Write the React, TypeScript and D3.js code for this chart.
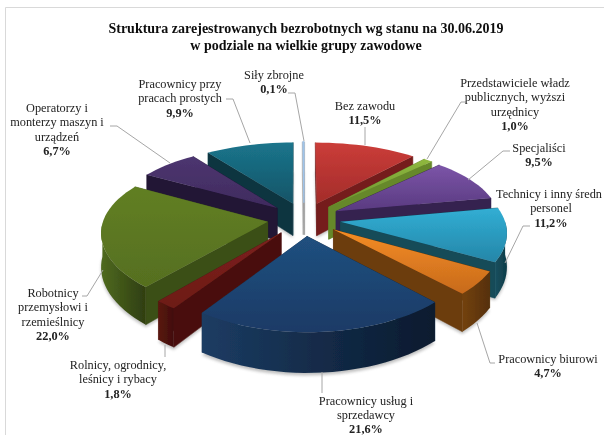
import React from "react";
import * as d3 from "d3";

const W = 604, H = 435;
const values = [11.5,1.0,9.5,11.2,4.7,21.6,1.8,22.0,6.7,9.9,0.1];
const topLight = ["#cb3d39","#8fb83f","#7c55a8","#31aed4","#f58d25","#20507f","#7c211c","#617f24","#4d3570","#1b758c","#9fc4ea"];
const topDark = ["#a32c2a","#6c9430","#593a80","#2586a8","#c76a1c","#1a3a66","#6d1b17","#566f1f","#3f2b5e","#135467","#9fc4ea"];
const wallLight = ["#7c211f","#6b8f2d","#3a2456","#17505f","#73420f","#1c3c63","#5a1612","#4f6a20","#2a1c40","#0f4252","#a0a0a0"];
const wallDark = ["#5c1614","#557323","#27183c","#0e3a46","#552f0a","#0a1a2e","#3f0e0b","#2e3d10","#1b112c","#082a34","#909090"];
const titleLines = ["Struktura zarejestrowanych bezrobotnych wg stanu na 30.06.2019","w podziale na wielkie grupy zawodowe"];
const labelTexts = [
  ["Bez zawodu"],["Przedstawiciele władz","publicznych, wyższi","urzędnicy"],["Specjaliści"],["Technicy i inny średn","personel"],["Pracownicy biurowi"],["Pracownicy usług i","sprzedawcy"],["Rolnicy, ogrodnicy,","leśnicy i rybacy"],["Robotnicy","przemysłowi i","rzemieślnicy"],["Operatorzy i","monterzy maszyn i","urządzeń"],["Pracownicy przy","pracach prostych"],["Siły zbrojne"],
];
const labelPos: [number, number][] = [[365,110],[515,87],[539,152],[551,198],[548,363],[366,404.5],[118,369],[53,297],[57,112],[180,88],[274,79]];
const firstLineShift = [0,0,0,-2,0,0,0,0,0,0,0];
const leaders: [number, number][][] = [
  [[365,127],[365,145]],
  [[467,102],[461,102],[427,159]],
  [[510,151],[503,151],[468,180]],
  [[530,226],[523,226],[505,263]],
  [[495,363],[490,363],[477,323]],
  [[322,372],[322,393]],
  [[165,345],[165,357]],
  [[82,296],[87,296],[103,270]],
  [[110,126],[117,126],[170,163]],
  [[226,99],[233,99],[250,143]],
  [[288,93],[295,93],[304,141]],
];
const valueSuffix = (v: number) => v.toFixed(1).replace(".", ",") + "%";

const CX = 304, CY = 219, R = 164, TILT = 75, KY = 0.155, KX = 0.12, EXPLODE = 0.224, DEPTH = 33;
const project = (X: number, Y: number, z = 0): [number, number] => {
  const sy = 1 / (1 - KY * Y), sx = 1 / (1 - KX * Y);
  return [CX + X * R * sx, CY + Y * TILT * sy + z * sy];
};
const pieGen = d3.pie<number>().sort(null).value(d => d);
const arcs = pieGen(values);

type Face = { d: string; fill: string; y: number };
const line = d3.line<[number, number]>();
type P = [number, number];
const prism = (pts: P[]) => {
  const up = pts.map(p => project(p[0], p[1]));
  const down = pts.map(p => project(p[0], p[1], DEPTH)).reverse();
  return line([...up, ...down]) + "Z";
};

function buildSlice(i: number) {
  const a = arcs[i];
  const mid = (a.startAngle + a.endAngle) / 2;
  const ox = EXPLODE * Math.sin(mid), oy = -EXPLODE * Math.cos(mid);
  const pt = (t: number, r = 1): P => [ox + r * Math.sin(t), oy - r * Math.cos(t)];
  const n = Math.max(2, Math.ceil((a.endAngle - a.startAngle) / 0.05));
  const ts = d3.range(n + 1).map(j => a.startAngle + (a.endAngle - a.startAngle) * j / n);
  const rim = ts.map(t => pt(t));
  const apex = pt(0, 0);
  const shade = d3.interpolateRgb(wallLight[i], wallDark[i]);
  const cuts: Face[] = [
    { d: prism([apex, rim[0]]), fill: shade(0.6), y: (apex[1] + rim[0][1]) / 2 },
    { d: prism([apex, rim[n]]), fill: shade(0.25), y: (apex[1] + rim[n][1]) / 2 },
  ].sort((p, q) => p.y - q.y);
  const front = ts.map((t, j) => ({ t, p: rim[j] })).filter(o => -Math.cos(o.t) > -0.02).map(o => o.p);
  const rimPath = front.length > 1 ? prism(front) : null;
  const poly = [apex, ...rim];
  const top = line(poly.map(p => project(p[0], p[1]))) + "Z";
  const shadow = line(poly.map(p => project(p[0], p[1], DEPTH + 2))) + "Z";
  const xs = front.map(p => project(p[0], p[1])[0]);
  return { i, cuts, rimPath, top, shadow, order: oy, x0: (d3.min(xs) ?? 0) as number, x1: (d3.max(xs) ?? 1) as number };
}
const slices = values.map((_, i) => buildSlice(i)).sort((a, b) => a.order - b.order);

export default function App() {
  return (
    <svg width={W} height={H} style={{ position: "fixed", left: 0, top: 0, background: "#fff" }}>
      <defs>
        <filter id="soft" x="-5%" y="-5%" width="110%" height="110%"><feGaussianBlur stdDeviation="0.45" /></filter>
        <filter id="shadow" x="-10%" y="-10%" width="120%" height="120%"><feGaussianBlur stdDeviation="1.5" /></filter>
        {values.map((_, i) => (
          <linearGradient key={i} id={`top${i}`} x1="0" y1="0" x2="0" y2="1">
            <stop offset="0" stopColor={topLight[i]} />
            <stop offset="1" stopColor={topDark[i]} />
          </linearGradient>
        ))}
        {slices.map(s => (
          <linearGradient key={s.i} id={`wall${s.i}`} gradientUnits="userSpaceOnUse" x1={s.x0} y1={0} x2={s.x1 + 1} y2={0}>
            <stop offset="0" stopColor={wallLight[s.i]} />
            <stop offset="1" stopColor={wallDark[s.i]} />
          </linearGradient>
        ))}
      </defs>
      <path d="M5.5 435V7.5H604" fill="none" stroke="#d9d9d9" strokeWidth={1} />
      <g fontFamily="'Liberation Serif', serif" fontWeight="bold" fontSize={14} textAnchor="middle" fill="#111" filter="url(#soft)">
        {titleLines.map((t, i) => <text key={i} x={306} y={33 + i * 17}>{t}</text>)}
      </g>
      <g filter="url(#shadow)" fill="#8a8a8a" opacity={0.55}>
        {slices.map(s => <path key={s.i} d={s.shadow} />)}
      </g>
      <g filter="url(#soft)">
        {slices.map(s => (
          <g key={s.i}>
            {s.cuts.map((f, j) => <path key={j} d={f.d} fill={f.fill} stroke={f.fill} strokeWidth={s.i === 10 ? 2.4 : 0.5} strokeOpacity={s.i === 10 ? 0.6 : 1} />)}
            {s.rimPath && <path d={s.rimPath} fill={`url(#wall${s.i})`} />}
            <path d={s.top} fill={`url(#top${s.i})`} stroke={topLight[s.i]} strokeWidth={s.i === 10 ? 1.2 : 0} />
          </g>
        ))}
      </g>
      <g fill="none" stroke="#a6a6a6" strokeWidth={1}>
        {leaders.map((l, i) => <path key={i} d={line(l) as string} />)}
      </g>
      <g fontFamily="'Liberation Serif', serif" fontSize={12.3} textAnchor="middle" fill="#222" filter="url(#soft)">
        {labelTexts.map((ls, i) => (
          <text key={i} x={labelPos[i][0]} y={labelPos[i][1]}>
            {ls.map((t, j) => <tspan key={j} x={labelPos[i][0] + (j === 0 ? firstLineShift[i] : 0)} dy={j ? 14.3 : 0}>{t}</tspan>)}
            <tspan x={labelPos[i][0]} dy={14.3} fontWeight="bold">{valueSuffix(values[i])}</tspan>
          </text>
        ))}
      </g>
    </svg>
  );
}
